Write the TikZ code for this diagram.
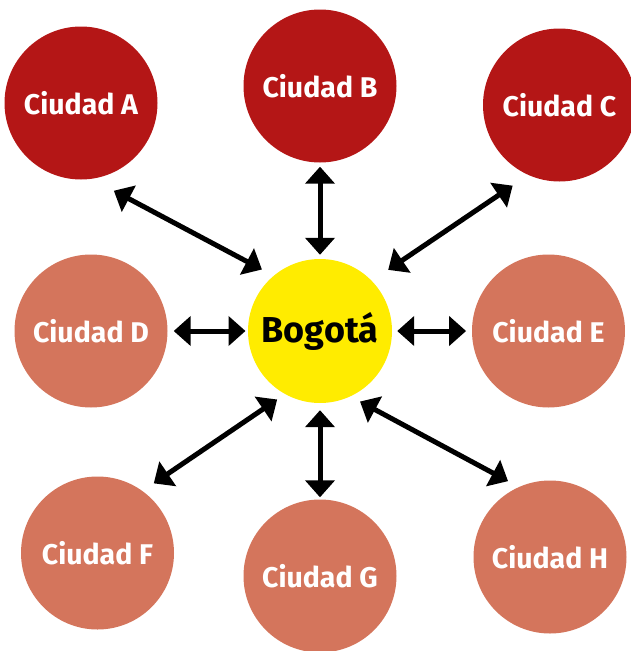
\documentclass[tikz,border=0pt]{standalone}
\usepackage{fontspec}
\setmainfont{Fira Sans}
\usetikzlibrary{arrows.meta}

\definecolor{rojo}{RGB}{180,22,22}
\definecolor{salmon}{RGB}{212,117,92}
\definecolor{amarillo}{RGB}{255,236,0}

\tikzset{
  ciudad/.style={circle, minimum size=153pt, inner sep=0pt, text=white,
    font=\bfseries\fontsize{28.5}{30}\selectfont},
  centro/.style={circle, minimum size=144pt, inner sep=0pt, fill=amarillo,
    font=\bfseries\fontsize{36}{38}\selectfont},
  flecha/.style={{Triangle[width=29pt,length=17pt]}-{Triangle[width=29pt,length=17pt]},
    line width=5pt, black},
}

\begin{document}
\begin{tikzpicture}[x=1pt, y=-1pt]
    \useasboundingbox (0,0) rectangle (630,651);
    \node [centro] (bog) at (320,331) {Bogotá};

    %---------------------------------------------------------------%
    \foreach \nom/\x/\y in {A/81/103, B/320/86, C/559.5/105}{% upper row
        \node [ciudad, fill=rojo] (ciu\nom) at (\x,\y) {Ciudad \nom};
    }
    \foreach \nom/\x/\y in {D/91/331, E/548.5/331, F/97.5/553, G/320/576, H/550/557}{% the rest
        \node [ciudad, fill=salmon] (ciu\nom) at (\x,\y) {Ciudad \nom};
    }
    %---------------------------------------------------------------%
    \foreach \desde/\hasta/\sa/\sb in {bog.130.4/ciuA.-82.9/13.2/25.1,
        bog/ciuB/4/4, bog.44.8/ciuC.-114.9/19.6/18.9,
        bog/ciuD/2.3/6, bog/ciuE/5/5.7,
        bog.-119/ciuF.54.3/9.5/13.5, bog/ciuG/7/2,
        bog.-65.6/ciuH.114.7/10.8/12.2}{% both ways
        \draw [flecha, shorten <=\sa pt, shorten >=\sb pt] (\desde) -- (\hasta);
    }
    %---------------------------------------------------------------%
\end{tikzpicture}
\end{document}
